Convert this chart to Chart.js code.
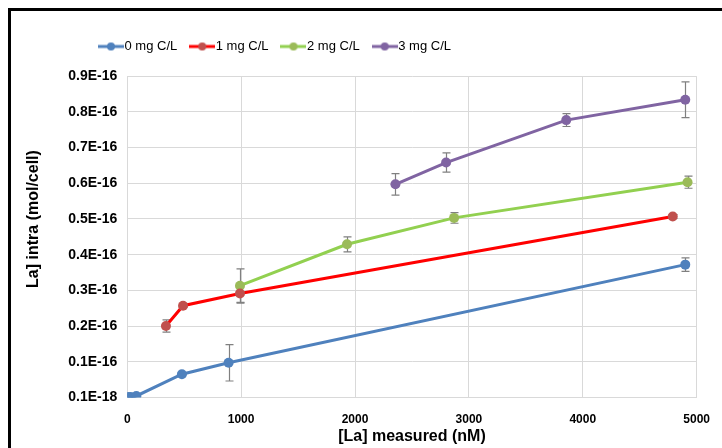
<!DOCTYPE html>
<html>
<head>
<meta charset="utf-8">
<script src="https://cdn.jsdelivr.net/npm/chart.js@4/dist/chart.umd.min.js"></script>
<style>
  html, body { margin: 0; padding: 0; background: #fff; }
  #wrap { width: 722px; height: 448px; }
</style>
</head>
<body>
<div id="wrap"><canvas id="chart" width="722" height="448"></canvas></div>
<script>
// values; y in units of 1E-16 mol/cell
var seriesNames = ['0 mg C/L', '1 mg C/L', '2 mg C/L', '3 mg C/L'];

var x0 = [5, 30, 80, 480, 890, 4900];
var y0 = [0.001, 0.001, 0.004, 0.065, 0.097, 0.372];
var e0 = [0, 0, 0, 0.003, 0.051, 0.019];

var x1 = [340, 490, 990, 4790];
var y1 = [0.200, 0.257, 0.291, 0.507];
var e1 = [0.017, 0.004, 0.027, 0.005];

var x2 = [990, 1930, 2870, 4920];
var y2 = [0.313, 0.429, 0.503, 0.603];
var e2 = [0.047, 0.021, 0.015, 0.017];

var x3 = [2355, 2800, 3855, 4900];
var y3 = [0.597, 0.658, 0.777, 0.834];
var e3 = [0.030, 0.027, 0.018, 0.050];

var yTickLabels = ['0.1E-18', '0.1E-16', '0.2E-16', '0.3E-16', '0.4E-16',
                   '0.5E-16', '0.6E-16', '0.7E-16', '0.8E-16', '0.9E-16'];
var xTickLabels = ['0', '1000', '2000', '3000', '4000', '5000'];

var lineColors = ['#4f81bd', '#ff0000', '#92d050', '#8064a2'];
var pointColors = ['#4f81bd', '#c0504d', '#9bbb59', '#8064a2'];

function pts(xs, ys) {
  return xs.map(function (x, i) { return { x: x, y: ys[i] }; });
}

// little line-with-dot icons for the legend
function legendIcon(lc, pc) {
  var c = document.createElement('canvas');
  c.width = 26; c.height = 12;
  var g = c.getContext('2d');
  g.strokeStyle = lc; g.lineWidth = 3;
  g.beginPath(); g.moveTo(0, 6); g.lineTo(26, 6); g.stroke();
  g.fillStyle = pc;
  g.beginPath(); g.arc(13, 6, 4, 0, Math.PI * 2); g.fill();
  return c;
}
var icons = lineColors.map(function (c, i) { return legendIcon(c, pointColors[i]); });

var allX = [x0, x1, x2, x3], allY = [y0, y1, y2, y3], allE = [e0, e1, e2, e3];

var datasets = seriesNames.map(function (name, i) {
  return {
    label: name,
    data: pts(allX[i], allY[i]),
    errors: allE[i],
    showLine: true,
    borderColor: lineColors[i],
    backgroundColor: pointColors[i],
    pointBackgroundColor: pointColors[i],
    pointBorderColor: pointColors[i],
    pointBorderWidth: 0,
    borderWidth: 3,
    pointRadius: 5,
    pointHoverRadius: 5
  };
});

var errorBars = {
  id: 'errorBars',
  beforeDatasetsDraw: function (chart) {
    var g = chart.ctx, xs = chart.scales.x, ys = chart.scales.y;
    g.save();
    g.strokeStyle = '#808080';
    g.lineWidth = 1.2;
    chart.data.datasets.forEach(function (ds) {
      ds.data.forEach(function (p, i) {
        var e = ds.errors[i];
        if (!e) return;
        var px = Math.round(xs.getPixelForValue(p.x)) + 0.5;
        var top = ys.getPixelForValue(p.y + e);
        var bot = ys.getPixelForValue(p.y - e);
        g.beginPath();
        g.moveTo(px, top); g.lineTo(px, bot);
        g.moveTo(px - 4, top); g.lineTo(px + 4, top);
        g.moveTo(px - 4, bot); g.lineTo(px + 4, bot);
        g.stroke();
      });
    });
    g.restore();
  }
};

var frame = {
  id: 'frame',
  beforeDraw: function (chart) {
    var g = chart.ctx;
    g.save();
    g.fillStyle = '#fff';
    g.fillRect(0, 0, chart.width, chart.height);
    g.fillStyle = '#000';
    g.fillRect(8, 8, chart.width, 3);
    g.fillRect(8, 8, 3, chart.height);
    g.restore();
  },
  afterLayout: function (chart) {
    // legend sits left of centre in the original
    chart.legend.left = 86;
  }
};

var ctx = document.getElementById('chart').getContext('2d');
var myChart = new Chart(ctx, {
  type: 'scatter',
  data: { datasets: datasets },
  plugins: [frame, errorBars],
  options: {
    responsive: false,
    animation: false,
    layout: { padding: { left: 14, right: 10, top: 22, bottom: 2 } },
    plugins: {
      tooltip: { enabled: false },
      // empty spacer between legend and plot
      subtitle: {
        display: true,
        text: '',
        weight: 500,
        font: { size: 1 },
        padding: { top: 0, bottom: 12 }
      },
      legend: {
        position: 'top',
        align: 'start',
        labels: {
          usePointStyle: true,
          pointStyleWidth: 14,
          padding: 18,
          color: '#222',
          font: { family: 'Arial, "Liberation Sans", sans-serif', size: 13 },
          generateLabels: function (chart) {
            return chart.data.datasets.map(function (ds, i) {
              return {
                text: ds.label,
                pointStyle: icons[i],
                fillStyle: pointColors[i],
                strokeStyle: lineColors[i],
                lineWidth: 0,
                datasetIndex: i,
                hidden: false
              };
            });
          }
        }
      }
    },
    scales: {
      x: {
        type: 'linear',
        min: 0,
        max: 5000,
        ticks: {
          stepSize: 1000,
          padding: 12,
          color: '#000',
          font: { family: 'Arial, "Liberation Sans", sans-serif', size: 12, weight: 'bold', lineHeight: 1.7 },
          callback: function (v, i) { return xTickLabels[i]; }
        },
        grid: { color: '#d9d9d9', drawTicks: false },
        border: { color: '#d9d9d9' },
        title: {
          display: true,
          text: '[La] measured (nM)',
          color: '#000',
          padding: { top: -15, bottom: 0 },
          font: { family: 'Arial, "Liberation Sans", sans-serif', size: 16, weight: 'bold' }
        }
      },
      y: {
        type: 'linear',
        min: 0,
        max: 0.9,
        ticks: {
          stepSize: 0.1,
          padding: 10,
          color: '#000',
          font: { family: 'Arial, "Liberation Sans", sans-serif', size: 14, weight: 'bold' },
          callback: function (v, i) { return yTickLabels[i]; }
        },
        grid: { color: '#d9d9d9', drawTicks: false },
        border: { color: '#d9d9d9' },
        title: {
          display: true,
          // leading spaces nudge the title up, as in the original
          text: '        La] intra (mol/cell)',
          color: '#000',
          padding: { top: 10, bottom: 15 },
          font: { family: 'Arial, "Liberation Sans", sans-serif', size: 16, weight: 'bold' }
        }
      }
    }
  }
});
</script>
</body>
</html>
